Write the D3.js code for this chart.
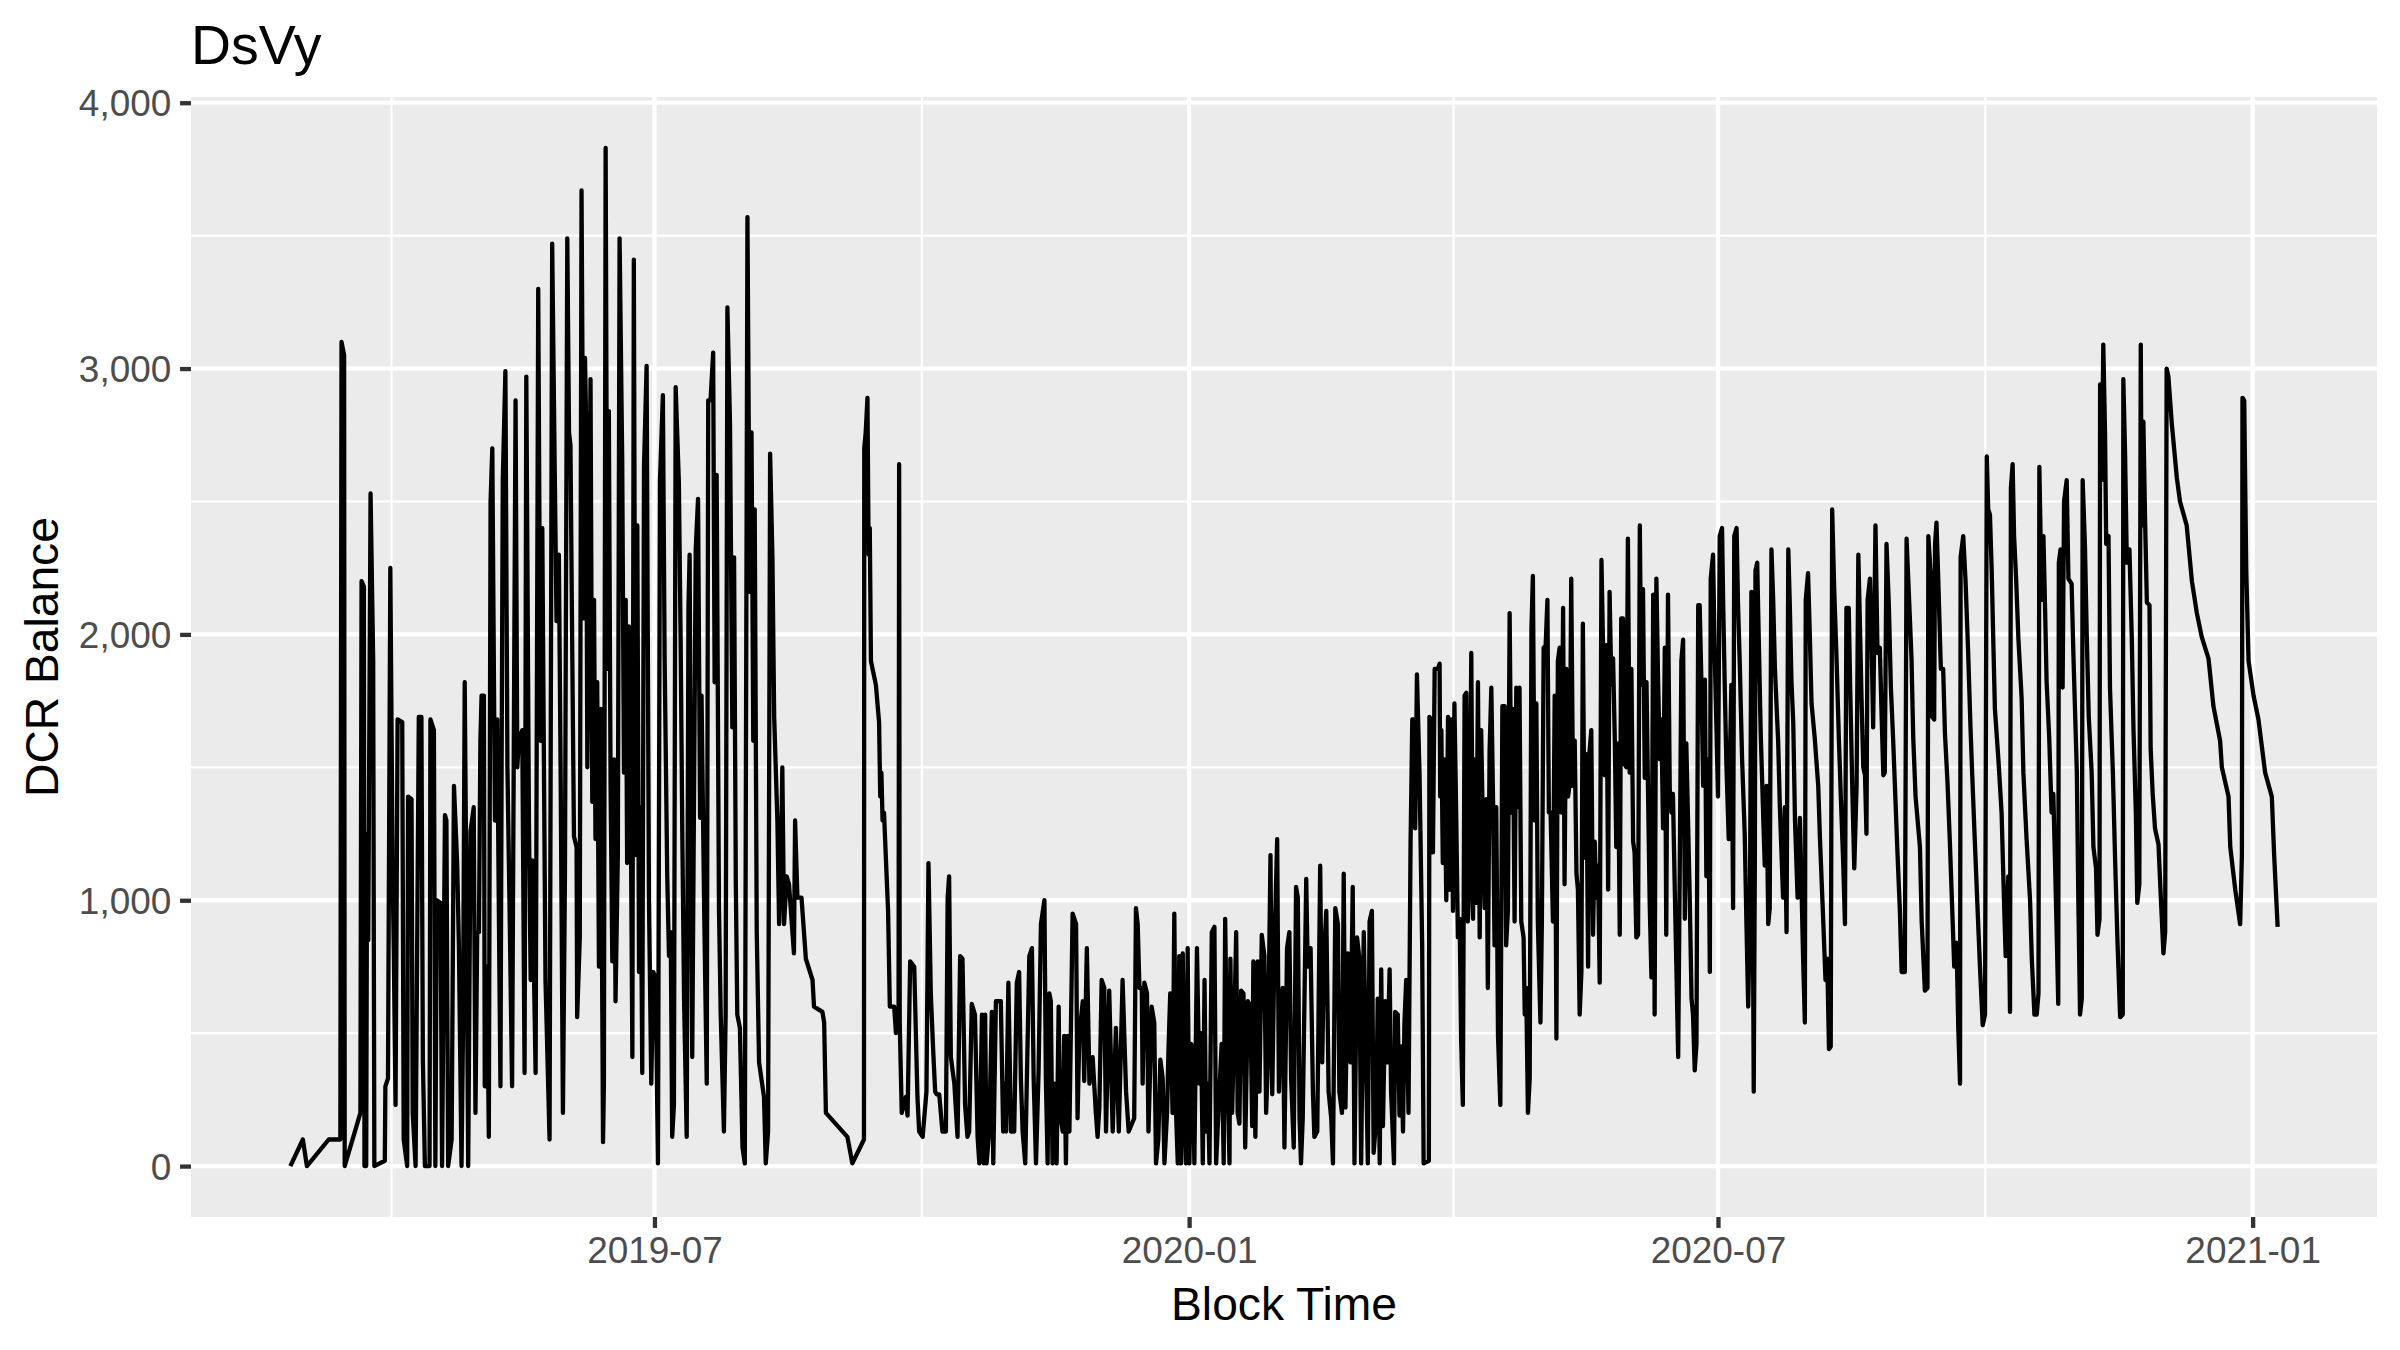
<!DOCTYPE html>
<html><head><meta charset="utf-8">
<script src="https://cdn.jsdelivr.net/npm/d3@7"></script>
<style>body{margin:0;background:#fff}svg{display:block}</style>
</head><body>
<script>
const chartTitle = "DsVy";
const xAxisTitle = "Block Time";
const yAxisTitle = "DCR Balance";
const epoch = "2019-01-01";           // blockDays are days (UTC) since this date
const yTicks = [0, 1000, 2000, 3000, 4000];
const xTickDates = ["2019-07-01", "2020-01-01", "2020-07-01", "2021-01-01"];

const blockDays = [
55.7,60.0,61.4,68.9,72.9,73.3,74.2,74.4,79.8,80.2,81.0,81.2,81.8,82.1,82.5,83.3,84.2,84.6,88.2,88.4,89.3,90.1,90.9,91.3,91.9,92.6,94.2,94.7,95.9,96.2,97.4,97.8,98.8,99.9,100.8,101.3,102.0,103.6,103.9,105.1,105.6,106.1,107.4,107.9,108.9,109.4,110.0,111.2,112.0,113.1,113.7,114.6,115.1,115.7,116.3,116.9,117.7,118.8,119.4,120.0,120.6,121.1,121.5,122.3,122.6,123.4,124.0,124.6,125.2,126.1,126.9,127.5,128.0,128.4,128.8,129.7,130.4,131.1,132.0,133.2,133.8,134.3,135.5,136.3,136.9,137.8,138.4,138.9,140.1,141.0,141.8,142.4,143.0,143.5,144.9,145.8,146.7,147.3,148.1,148.7,149.5,150.2,
151.0,151.6,152.1,152.7,153.3,154.2,154.4,155.3,155.9,156.7,157.1,157.5,157.9,158.4,159.0,159.6,160.2,160.7,161.3,161.9,162.5,163.3,163.6,164.2,164.8,165.3,165.9,166.5,167.1,167.6,168.4,169.0,169.9,170.5,171.1,171.6,172.2,172.8,173.4,173.9,174.5,175.1,175.7,176.2,176.8,177.4,178.3,179.1,179.9,180.6,181.4,182.2,182.9,183.9,184.5,185.4,186.0,186.6,187.1,187.7,188.3,189.4,190.0,190.6,191.2,192.1,192.7,193.1,193.5,194.0,195.2,196.0,196.7,197.2,198.1,199.0,199.5,200.3,201.2,201.7,202.4,203.2,203.8,204.9,205.5,206.1,207.0,207.8,208.4,209.0,209.5,210.4,211.3,212.1,213.0,213.8,214.4,215.0,215.5,216.2,217.0,218.7,219.3,220.1,220.8,221.6,222.2,223.3,223.9,224.5,225.0,225.6,226.5,227.3,229.0,229.4,230.2,231.6,233.1,235.4,235.9,238.8,239.4,240.0,247.4,
249.1,253.1,253.2,253.7,254.3,254.7,255.1,255.5,257.2,258.3,258.7,259.1,259.5,260.0,260.6,261.4,262.0,263.5,264.1,265.0,265.2,265.4,266.1,267.5,268.1,269.0,270.4,271.5,272.1,273.3,274.6,275.3,276.1,276.9,277.6,278.1,279.0,280.1,281.3,281.9,282.4,283.0,284.2,285.3,286.2,287.0,287.9,288.7,289.3,290.2,291.3,292.2,292.8,293.7,294.3,294.8,295.3,296.2,297.1,297.6,298.5,300.2,301.0,301.5,302.0,302.8,303.7,304.8,305.7,306.5,307.1,307.7,308.6,309.4,310.0,310.9,311.5,312.3,313.2,314.0,315.2,315.7,316.3,316.9,317.4,318.0,318.6,319.4,320.1,320.5,321.5,322.0,322.6,323.2,323.8,324.9,326.1,326.6,327.2,328.4,328.9,329.8,330.7,331.8,332.9,333.5,334.1,334.9,335.8,336.4,337.5,338.7,339.8,340.8,342.1,343.3,344.2,346.1,
346.7,347.3,347.9,348.7,349.0,349.6,350.5,351.0,351.7,352.1,353.0,353.6,354.4,355.1,355.9,356.5,357.4,357.9,358.5,359.3,359.9,360.5,361.1,361.6,362.2,362.8,363.4,363.9,364.5,365.1,365.7,366.2,366.8,367.7,368.5,369.1,369.7,370.3,370.8,371.4,372.0,372.8,373.7,374.3,375.4,376.2,376.9,377.4,378.1,378.9,379.2,379.8,380.6,381.2,381.7,382.3,382.9,383.7,384.3,385.2,386.1,386.7,387.1,387.8,388.6,389.2,390.0,390.9,391.5,392.1,393.0,393.6,394.4,395.3,395.9,396.7,397.2,397.8,398.7,399.5,400.1,401.0,401.8,402.4,403.0,403.5,404.1,405.3,405.8,406.8,407.6,408.1,409.1,410.1,410.8,411.4,412.2,413.0,413.9,414.5,415.3,416.2,416.7,417.6,418.2,418.8,419.6,420.5,421.3,421.9,422.8,423.6,424.2,425.1,425.9,426.5,427.1,427.9,428.5,429.4,429.9,430.6,431.1,431.7,432.5,433.2,434.0,434.5,435.5,435.9,436.8,437.4,438.0,438.6,439.1,439.7,440.5,441.2,441.8,442.3,442.8,443.4,
444.3,445.2,445.7,447.5,447.7,448.3,448.9,449.5,450.6,451.2,451.4,451.8,452.3,452.9,453.5,454.1,454.6,455.2,455.8,456.3,456.9,457.5,458.1,458.6,459.2,459.8,460.4,460.9,461.5,462.1,462.7,463.2,463.8,464.4,465.0,465.5,466.1,466.7,467.3,467.8,468.4,469.0,469.6,470.1,470.7,471.3,472.1,472.8,473.6,474.1,474.7,475.3,475.9,476.4,477.0,477.6,478.2,478.7,479.3,480.1,480.5,481.0,481.6,482.2,482.8,483.3,483.9,484.5,485.0,485.9,486.4,487.0,487.7,488.3,488.8,489.4,490.2,490.8,491.4,491.9,492.5,493.1,493.7,494.2,494.8,495.4,496.0,496.5,497.1,497.7,498.3,498.8,499.4,500.0,500.5,501.1,501.7,502.3,502.8,503.4,504.0,504.6,505.1,505.7,506.3,506.9,507.4,508.0,508.6,509.2,509.7,510.3,510.9,511.5,512.0,512.6,513.2,513.7,514.3,514.9,515.5,516.0,516.6,517.2,517.8,518.3,518.9,519.5,520.1,520.6,521.2,521.8,522.4,522.9,523.5,524.1,524.7,525.2,525.8,526.4,527.0,527.5,528.1,528.7,529.2,529.8,530.4,531.0,531.5,532.1,532.7,533.3,533.8,534.4,535.0,535.6,536.1,536.7,537.3,537.9,538.4,539.0,539.6,540.2,540.7,541.3,541.9,
542.5,543.0,543.6,544.2,544.5,545.3,545.9,546.5,547.0,547.6,548.4,548.8,549.3,549.9,550.7,551.1,551.6,552.2,552.6,553.4,553.9,554.5,555.3,556.2,556.8,557.4,558.0,558.5,559.3,559.7,559.9,560.5,561.1,561.7,562.5,563.1,563.7,564.3,564.8,565.4,566.0,566.6,567.7,568.3,569.4,570.0,570.6,571.2,571.7,572.3,572.9,573.5,574.4,575.2,576.3,576.9,577.2,578.0,578.6,579.2,580.3,581.5,582.1,583.2,584.0,584.6,585.2,585.8,586.3,587.0,587.8,588.6,589.3,590.1,590.7,591.2,592.0,592.5,593.2,593.9,594.7,595.3,595.8,596.4,597.0,597.6,598.1,598.5,599.3,599.9,600.4,601.2,601.9,602.7,603.3,603.9,604.4,605.0,605.8,606.5,607.3,608.1,608.8,609.6,610.2,611.3,611.9,612.7,613.6,614.2,615.0,616.5,617.1,618.2,619.1,619.4,620.3,620.7,621.4,621.7,622.2,622.8,623.7,624.5,625.1,626.0,626.8,627.6,628.3,629.1,629.7,630.3,630.5,631.4,632.2,633.1,633.9,634.5,635.4,636.4,637.2,638.1,638.9,639.5,640.0,
640.6,641.2,641.8,642.3,643.5,644.6,645.4,646.0,646.9,647.5,647.8,648.4,648.9,649.6,650.4,651.5,652.1,653.2,654.4,655.0,655.9,656.7,657.3,657.6,658.4,659.0,659.5,660.1,661.0,661.8,662.4,663.0,663.6,664.1,664.3,664.9,665.6,666.1,667.0,667.6,668.7,669.3,670.5,671.0,671.6,672.2,672.5,673.3,673.9,674.6,675.6,676.2,677.1,677.6,678.3,678.5,679.1,679.6,680.2,680.6,681.4,681.9,682.9,683.7,684.5,685.4,686.3,686.5,687.1,687.7,688.6,689.4,690.0,690.8,691.3,692.0,692.5,692.8,693.4,694.0,694.6,695.5,695.9,696.6,697.4,698.6,699.4,700.3,700.9,701.4,702.0,703.2,704.9,706.0,708.3,710.1,711.8,713.5,715.8,717.5,719.8,720.4,722.7,723.3,725.0,726.7,727.3,727.5,728.1,728.8,729.6,731.3,733.0,735.3,737.6,738.4,739.6
];

const balances = [
0,100,0,100,100,3100,3050,0,200,2200,2180,0,0,1250,850,2530,1900,0,20,300,330,2250,1100,800,230,1680,1670,100,0,1390,1380,200,0,1690,1690,400,0,0,1680,1640,0,1000,990,0,1320,1300,0,100,1430,1140,830,0,500,1820,1000,0,1260,1350,200,880,880,1600,1770,1770,300,750,110,2500,2700,1300,1680,900,300,1500,2580,2990,1500,1000,300,2880,1500,1600,1640,350,2970,1300,700,1150,350,3300,1600,2400,1450,700,100,3470,2600,2050,2300,1500,200,1100,
3490,2760,2710,1950,1240,1200,560,860,3670,2060,3040,2790,1500,2130,2960,1370,2130,1230,1820,750,1720,90,310,3830,1870,2840,1430,770,1530,620,1170,3490,2660,1480,2130,1140,2030,1430,410,3410,1170,2410,730,1350,350,2630,3010,1010,310,730,710,10,2580,2900,1910,1090,790,880,110,230,2930,2570,1990,1230,620,110,2100,2300,1380,410,2320,2510,1310,1770,970,310,2880,2880,3060,1820,2600,970,570,130,570,3230,2790,1650,2290,1060,570,520,70,10,3570,2160,2760,1600,2470,880,390,260,10,130,2680,2290,1690,1300,910,1120,1500,910,1090,1060,800,1300,1010,1010,780,700,600,580,540,200,110,
10,100,2700,2760,2890,2300,2400,1900,1810,1670,1390,1480,1300,1330,1170,960,600,600,500,520,2640,540,200,260,190,770,750,260,130,110,280,1140,650,440,280,270,270,130,130,1010,1090,410,310,110,790,780,230,110,130,610,570,110,10,570,10,570,10,130,580,10,620,620,130,310,130,690,130,130,690,730,330,130,10,460,790,820,330,10,360,910,1000,330,10,650,620,10,310,10,600,200,130,490,10,490,130,950,910,180,490,620,320,820,310,410,200,110,220,700,670,130,660,130,520,130,700,280,130,180,
970,910,670,670,310,690,650,130,410,600,540,10,100,400,330,10,200,440,650,200,950,200,10,790,10,800,200,10,820,10,460,440,10,820,310,500,10,700,130,310,10,880,900,10,280,460,10,930,390,10,780,200,570,880,200,160,660,650,70,620,600,150,770,110,770,280,870,790,200,390,1170,270,840,1230,280,630,670,70,820,880,330,70,1050,1010,180,10,180,1080,750,820,280,110,130,1130,390,790,960,280,180,10,970,910,280,200,1100,220,800,390,1050,10,860,780,10,880,390,10,920,960,50,180,630,10,740,150,620,390,740,280,10,580,570,190,450,130,540,700,200,1210,1680,1680,1270,1850,
1470,830,10,20,1690,1680,1180,1870,1870,1890,1390,1640,1140,1530,1000,1690,1040,1680,960,1740,1330,860,930,480,230,1770,1780,920,1090,1930,930,1530,990,1820,860,1640,1270,970,1380,670,1560,1800,1370,830,1350,490,230,1730,1730,830,960,2080,1330,1720,920,1800,1350,1800,920,860,570,670,200,330,2020,2220,1300,1740,920,540,920,1950,1960,2130,1330,1330,920,1770,480,1900,1950,1330,2100,1060,1870,1390,1440,2210,1430,1600,1100,1040,570,730,2040,1160,1550,750,1560,1640,870,1220,1010,1130,690,2280,1980,1470,1960,1040,2160,1810,1910,1600,1200,1590,870,2060,2060,1510,1500,2360,1480,1870,1220,1180,860,870,2410,1810,2170,1460,1820,1430,990,710,2150,570,2210,1820,1530,1680,1270,1950,870,2150,1420,1330,1400,1060,740,410,1060,1900,1980,930,1590,1300,1000,630,570,360,460,2110,2110,1820,1430,
1830,1090,1530,730,2210,2300,1910,1640,1390,2370,2400,2110,1820,1510,1230,1530,1810,970,2370,2400,2110,1890,1530,1250,910,600,960,2160,280,1170,2240,2270,1950,1630,1340,1130,1430,910,970,2320,2130,1870,1600,1350,1010,1350,880,2320,2120,1820,1670,1300,1010,1310,780,540,2130,2230,2000,1740,1610,1430,1230,930,700,780,440,450,2470,2170,1910,1610,1380,1140,910,2100,2100,1800,1430,1120,1430,2300,2060,1760,1500,1470,1250,2130,2210,1950,1650,2410,1930,1950,1700,1470,1480,2340,2110,1800,1600,1370,1170,960,730,730,2360,2150,1910,1610,1390,1200,920,660,670,2370,2210,1690,1680,2340,2420,2210,1870,1870,1630,1440,1220,970,750,840,520,310,2290,2370,2200,1930,1650,1470,1220,950,740,530,570,2670,2470,
2450,2240,1950,1720,1530,1330,1010,790,1090,580,2550,2640,2370,2210,1980,1760,1480,1230,1000,780,570,570,650,2630,2130,2370,2130,1820,1610,1330,1400,1140,860,610,2270,2320,1800,2500,2580,2210,2190,1930,1480,1010,570,630,2580,2330,2000,1690,1480,1200,1120,870,930,2940,2580,3090,2760,2340,2370,1800,1480,1140,840,560,570,2960,2680,2270,2320,1990,1640,1330,990,1060,3090,2410,2800,2420,2120,2110,1570,1400,1270,1210,1010,800,880,3000,2970,2790,2590,2500,2410,2200,2080,1990,1910,1730,1600,1500,1390,1200,1040,910,1170,2890,2880,2240,1900,1770,1680,1480,1390,1170,900
];

// ---------- layout (ggplot2 theme_grey look) ----------
const W = 2400, H = 1350;
const panel = {left: 191, right: 2377, top: 97, bottom: 1217};
const px = 3.98;      // px per pt for lines/spacing
const fpx = 4.2;      // px per pt for text
const lineMajor = 4.3, lineMinor = 2.15;
const tickLen = 2.75 * px;
const fontFamily = "'Liberation Sans', Arial, Helvetica, sans-serif";

const epochMs = Date.parse(epoch + "T00:00:00Z");
const data = blockDays.map((d, i) => ({t: new Date(epochMs + d * 864e5), v: balances[i]}));

const svg = d3.select("body").append("svg")
  .attr("width", W).attr("height", H)
  .attr("viewBox", `0 0 ${W} ${H}`);
svg.append("rect").attr("width", W).attr("height", H).attr("fill", "#ffffff");

const tExt = d3.extent(data, d => d.t);
const tPad = (tExt[1] - tExt[0]) * 0.05;
const x = d3.scaleUtc()
  .domain([new Date(+tExt[0] - tPad), new Date(+tExt[1] + tPad)])
  .range([panel.left, panel.right]);

const vExt = d3.extent(data, d => d.v);
const vPad = (vExt[1] - vExt[0]) * 0.05;
const y = d3.scaleLinear()
  .domain([vExt[0] - vPad, vExt[1] + vPad])
  .range([panel.bottom, panel.top]);

// panel background
svg.append("rect")
  .attr("x", panel.left).attr("y", panel.top)
  .attr("width", panel.right - panel.left).attr("height", panel.bottom - panel.top)
  .attr("fill", "#EBEBEB");

const xMajor = xTickDates.map(s => new Date(s + "T00:00:00Z"));
// minor breaks: midpoints between consecutive major breaks (including one before first)
const stepBefore = new Date(Date.UTC(2019, 0, 1));
const allMaj = [stepBefore, ...xMajor];
const xMinor = [];
for (let i = 0; i < allMaj.length - 1; i++) {
  const m = new Date((+allMaj[i] + +allMaj[i + 1]) / 2);
  if (m >= x.domain()[0] && m <= x.domain()[1]) xMinor.push(m);
}
const yMinor = [];
for (let i = 0; i < yTicks.length - 1; i++) yMinor.push((yTicks[i] + yTicks[i + 1]) / 2);

const grid = svg.append("g");
grid.selectAll(".ymin").data(yMinor).join("line")
  .attr("x1", panel.left).attr("x2", panel.right)
  .attr("y1", d => y(d)).attr("y2", d => y(d))
  .attr("stroke", "#fff").attr("stroke-width", lineMinor);
grid.selectAll(".xmin").data(xMinor).join("line")
  .attr("y1", panel.top).attr("y2", panel.bottom)
  .attr("x1", d => x(d)).attr("x2", d => x(d))
  .attr("stroke", "#fff").attr("stroke-width", lineMinor);
grid.selectAll(".ymaj").data(yTicks).join("line")
  .attr("x1", panel.left).attr("x2", panel.right)
  .attr("y1", d => y(d)).attr("y2", d => y(d))
  .attr("stroke", "#fff").attr("stroke-width", lineMajor);
grid.selectAll(".xmaj").data(xMajor).join("line")
  .attr("y1", panel.top).attr("y2", panel.bottom)
  .attr("x1", d => x(d)).attr("x2", d => x(d))
  .attr("stroke", "#fff").attr("stroke-width", lineMajor);

// series line
const line = d3.line().x(d => x(d.t)).y(d => y(d.v));
svg.append("path").datum(data)
  .attr("d", line)
  .attr("fill", "none")
  .attr("stroke", "#000")
  .attr("stroke-width", lineMajor)
  .attr("stroke-linejoin", "round")
  .attr("stroke-linecap", "butt");

// axes
const fmtY = d3.format(",");
const fmtX = d3.utcFormat("%Y-%m");
const yAxis = d3.axisLeft(y).tickValues(yTicks).tickFormat(fmtY).tickSize(tickLen).tickPadding(2.2 * px);
const xAxis = d3.axisBottom(x).tickValues(xMajor).tickFormat(fmtX).tickSize(tickLen).tickPadding(2.2 * px);

const gy = svg.append("g").attr("transform", `translate(${panel.left},0)`).call(yAxis);
const gx = svg.append("g").attr("transform", `translate(0,${panel.bottom})`).call(xAxis);
[gx, gy].forEach(g => {
  g.select(".domain").remove();
  g.selectAll(".tick line").attr("stroke", "#333333").attr("stroke-width", lineMajor);
  g.selectAll(".tick text")
    .attr("fill", "#4D4D4D")
    .style("font-family", fontFamily)
    .style("font-size", (8.8 * fpx) + "px");
});
gy.selectAll(".tick text").attr("dy", "0.35em");
gx.selectAll(".tick text").attr("dy", "0.71em");

// titles
svg.append("text")
  .attr("x", panel.left).attr("y", 64)
  .attr("fill", "#000")
  .style("font-family", fontFamily)
  .style("font-size", (13.2 * fpx) + "px")
  .text(chartTitle);

svg.append("text")
  .attr("x", (panel.left + panel.right) / 2).attr("y", 1320)
  .attr("text-anchor", "middle")
  .attr("fill", "#000")
  .style("font-family", fontFamily)
  .style("font-size", (11 * fpx) + "px")
  .text(xAxisTitle);

svg.append("text")
  .attr("transform", `translate(58,${(panel.top + panel.bottom) / 2}) rotate(-90)`)
  .attr("text-anchor", "middle")
  .attr("fill", "#000")
  .style("font-family", fontFamily)
  .style("font-size", (11 * fpx) + "px")
  .text(yAxisTitle);
</script>
</body></html>
